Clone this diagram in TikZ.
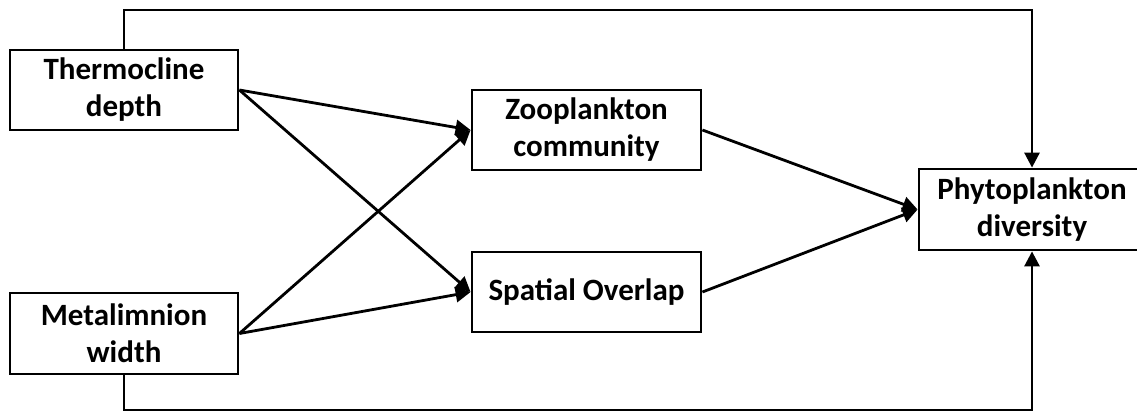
\documentclass[tikz,border=0pt]{standalone}
\usepackage{fontspec}
\setmainfont{Carlito}
\usetikzlibrary{arrows.meta}
\tikzset{
  box/.style={draw, line width=2.8pt, rectangle, inner sep=0pt, align=center,
    font=\fontsize{31}{37}\selectfont\bfseries},
  arr/.style={line width=2.8pt, -{Triangle[length=15pt,width=15pt]}},
  ln/.style={line width=2.8pt}
}
\begin{document}
\begin{tikzpicture}[x=1pt,y=-1pt]
\useasboundingbox (0,0) rectangle (1137,413);
\node[box, minimum width=228pt, minimum height=80pt] (t) at (124,90) {Thermocline\\depth};
\node[box, minimum width=228pt, minimum height=81pt] (m) at (124,333.5) {Metalimnion\\width};
\node[box, minimum width=229pt, minimum height=80pt] (z) at (586.5,130) {Zooplankton\\community};
\node[box, minimum width=229pt, minimum height=80pt] (s) at (586.5,292) {Spatial Overlap};
\node[box, minimum width=226pt, minimum height=81pt] (p) at (1032,209.5) {Phytoplankton\\diversity};
\coordinate (topy) at (0,10);
\coordinate (boty) at (0,410);
\draw[arr] (t.east) -- (z.west);
\draw[arr] (t.east) -- (s.west);
\draw[arr] (m.east) -- (z.west);
\draw[arr] (m.east) -- (s.west);
\draw[arr] (z.east) -- (p.west);
\draw[arr] (s.east) -- (p.west);
\draw[arr] (t.north) |- (p.north |- topy) -- (p.north);
\draw[arr] (m.south) |- (p.south |- boty) -- (p.south);
\end{tikzpicture}
\end{document}
